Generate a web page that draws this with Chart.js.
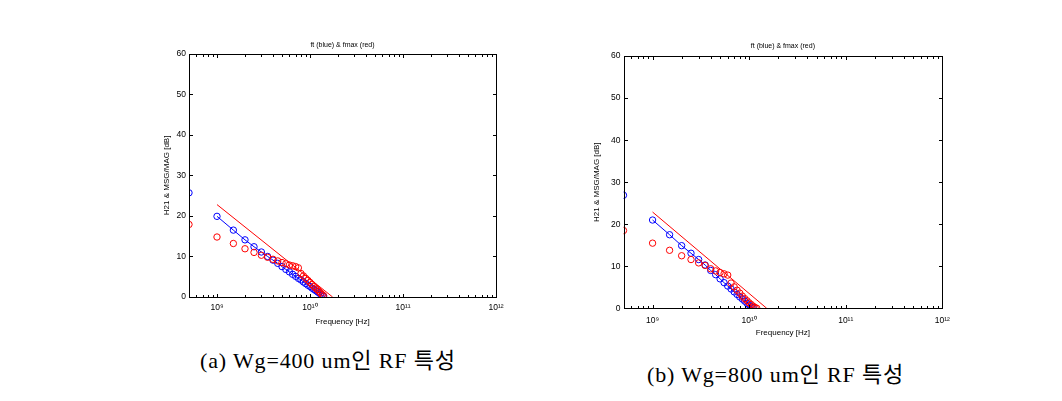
<!DOCTYPE html>
<html>
<head>
<meta charset="utf-8">
<script src="https://cdn.jsdelivr.net/npm/chart.js@4.4.1/dist/chart.umd.min.js"></script>
<style>
  body { margin: 0; background: #fff; width: 1062px; height: 401px; position: relative; overflow: hidden; }
  canvas { position: absolute; }
  #chartA { left: 140px; top: 30px; }
  #chartB { left: 580px; top: 30px; }
  .cap { position: absolute; font-family: "Liberation Serif", "Noto Sans CJK KR", serif; font-size: 22px;
         letter-spacing: 0.85px; line-height: 26px; white-space: nowrap; color: #000; }
</style>
</head>
<body>
<canvas id="chartA" width="380" height="310"></canvas>
<canvas id="chartB" width="390" height="320"></canvas>
<div class="cap" style="left:200px; top:348px;">(a) Wg=400 um인 RF 특성</div>
<div class="cap" style="left:647px; top:362px;">(b) Wg=800 um인 RF 특성</div>
<script>
// (a) Wg = 400 um
const freqA = [0.5e9, 1e9, 1.5e9, 2e9, 2.5e9, 3e9, 3.5e9, 4e9, 4.5e9, 5e9, 5.5e9, 6e9, 6.5e9, 7e9,
               7.5e9, 8e9, 8.5e9, 9e9, 9.5e9, 10e9, 10.5e9, 11e9, 11.5e9, 12e9, 12.5e9, 13e9, 13.5e9, 14e9];
const h21A = [25.7, 19.9, 16.5, 14.1, 12.4, 11.1, 10.0, 9.1, 8.3, 7.5, 6.8, 6.2, 5.6, 5.1,
              4.6, 4.2, 3.7, 3.3, 2.9, 2.6, 2.2, 1.9, 1.6, 1.3, 1.0, 0.7, 0.45, 0.2];
const msgA = [17.9, 14.8, 13.2, 11.9, 11.0, 10.3, 9.8, 9.3, 8.9, 8.5, 8.2, 7.9, 7.7, 7.5,
              7.2, 5.8, 5.2, 4.6, 4.1, 3.6, 3.1, 2.6, 2.2, 1.8, 1.4, 1.0, 0.6, 0.3];
const fitFreqA = [1e9, 1.75e10];
const fitGainA = [22.8, 0];

// (b) Wg = 800 um
const freqB = [0.5e9, 1e9, 1.5e9, 2e9, 2.5e9, 3e9, 3.5e9, 4e9, 4.5e9, 5e9, 5.5e9, 6e9,
               6.5e9, 7e9, 7.5e9, 8e9, 8.5e9, 9e9, 9.5e9, 10e9, 10.5e9, 11e9, 11.5e9, 12e9];
const h21B = [26.9, 21.0, 17.5, 14.9, 13.1, 11.6, 10.3, 9.0, 8.0, 7.0, 6.1, 5.3,
              4.6, 3.9, 3.3, 2.7, 2.2, 1.7, 1.2, 0.8, 0.4, 0.1];
const msgB = [18.5, 15.5, 13.8, 12.5, 11.6, 10.8, 10.2, 9.4, 8.9, 8.5, 8.2, 7.9,
              6.0, 5.1, 4.3, 3.6, 2.9, 2.3, 1.8, 1.3, 0.9, 0.5, 0.2, 0.0];
const fitFreqB = [1e9, 1.52e10];
const fitGainB = [22.9, 0];

const titleText = 'ft (blue) & fmax (red)';
const xLabel = 'Frequency [Hz]';
const yLabel = 'H21 & MSG/MAG [dB]';

const FONT = '"Liberation Sans", Arial, sans-serif';
const SUP = { '0': '\u2070', '1': '\u00b9', '2': '\u00b2', '3': '\u00b3', '4': '\u2074',
              '5': '\u2075', '6': '\u2076', '7': '\u2077', '8': '\u2078', '9': '\u2079' };

const isDecade = v => Math.abs(Math.log10(v) - Math.round(Math.log10(v))) < 1e-9;

// 1..9 x 10^n tick marks over the log axis
const xTickValues = [];
for (let e = 8; e <= 11; e++) {
  for (let m = 1; m <= 9; m++) {
    const v = m * Math.pow(10, e);
    if (v >= 5e8) xTickValues.push(v);
  }
}
xTickValues.push(1e12);

const zip = (xs, ys) => ys.map((y, i) => ({ x: xs[i], y }));

// box + inward tick marks, like the original plot frame
const frame = {
  id: 'frame',
  afterDraw(chart) {
    const { ctx, chartArea: a, scales: { x, y } } = chart;
    const L = Math.round(a.left) + 0.5, R = Math.round(a.right) + 0.5;
    const T = Math.round(a.top) + 0.5, B = Math.round(a.bottom) + 0.5;
    ctx.save();
    ctx.strokeStyle = '#000';
    ctx.lineWidth = 1;
    ctx.strokeRect(L, T, R - L, B - T);
    ctx.beginPath();
    x.ticks.forEach(t => {
      const px = Math.round(x.getPixelForValue(t.value)) + 0.5;
      const len = isDecade(t.value) ? 3.5 : 2.5;
      ctx.moveTo(px, B); ctx.lineTo(px, B - len);
      ctx.moveTo(px, T); ctx.lineTo(px, T + len);
    });
    y.ticks.forEach(t => {
      const py = Math.round(y.getPixelForValue(t.value)) + 0.5;
      ctx.moveTo(L, py); ctx.lineTo(L + 3.5, py);
      ctx.moveTo(R, py); ctx.lineTo(R - 3.5, py);
    });
    ctx.stroke();
    ctx.restore();
  }
};

function makeChart(id, freq, h21, msg, fitF, fitG, lay) {
  const h21Pts = zip(freq, h21);
  const msgPts = zip(freq, msg);
  const circle = color => ({
    showLine: false, pointStyle: 'circle', pointRadius: 3.2, pointBorderWidth: 1,
    pointBorderColor: color, pointBackgroundColor: 'rgba(0,0,0,0)'
  });
  return new Chart(document.getElementById(id), {
    type: 'scatter',
    data: {
      datasets: [
        Object.assign({ label: 'MSG/MAG', data: msgPts }, circle('#ff0000')),
        Object.assign({ label: 'H21', data: h21Pts }, circle('#0000ff')),
        { label: 'H21 line', data: h21Pts.slice(1), showLine: true, borderColor: '#0000ff',
          borderWidth: 1, pointRadius: 0 },
        { label: 'fmax fit', data: zip(fitF, fitG), showLine: true, borderColor: '#ff0000',
          borderWidth: 1, pointRadius: 0 }
      ]
    },
    options: {
      responsive: false,
      animation: false,
      layout: { padding: { left: 0, top: 0, right: lay.padRight, bottom: 0 } },
      plugins: {
        legend: { display: false },
        tooltip: { enabled: false },
        title: {
          display: true, text: titleText, fullSize: false, color: '#000',
          font: { family: FONT, size: 7, weight: 'normal' },
          padding: { top: lay.titleTop, bottom: lay.titleBottom }
        }
      },
      scales: {
        x: {
          type: 'logarithmic', min: 5e8, max: 1e12,
          grid: { display: false, drawTicks: false },
          border: { display: false },
          afterBuildTicks: s => { s.ticks = xTickValues.map(v => ({ value: v, major: isDecade(v) })); },
          afterFit: s => { s.height = lay.xHeight; },
          ticks: {
            autoSkip: false, maxRotation: 0, padding: lay.xTickPad, color: '#000',
            font: { family: FONT, size: 8.5 },
            callback: v => isDecade(v)
              ? '10' + String(Math.round(Math.log10(v))).split('').map(c => SUP[c]).join('')
              : ''
          },
          title: {
            display: true, text: xLabel, color: '#000', font: { family: FONT, size: 8 },
            padding: { top: 0, bottom: lay.xTitlePad }
          }
        },
        y: {
          min: 0, max: 60,
          grid: { display: false, drawTicks: false },
          border: { display: false },
          afterFit: s => { s.width = lay.yWidth; },
          ticks: { stepSize: 10, padding: 3, color: '#000', font: { family: FONT, size: 8.5 } },
          title: {
            display: true, text: yLabel, color: '#000', font: { family: FONT, size: 8 },
            padding: { top: lay.yTitlePad, bottom: 0 }
          }
        }
      }
    },
    plugins: [frame]
  });
}

makeChart('chartA', freqA, h21A, msgA, fitFreqA, fitGainA,
  { padRight: 24, titleTop: 11.2, titleBottom: 4.2, xHeight: 43, xTickPad: 6, xTitlePad: 13.2, yWidth: 49, yTitlePad: 22.2 });
makeChart('chartB', freqB, h21B, msgB, fitFreqB, fitGainB,
  { padRight: 27.7, titleTop: 12.2, titleBottom: 5.5, xHeight: 41.7, xTickPad: 7, xTitlePad: 12.2, yWidth: 43.5, yTitlePad: 12.2 });
</script>
</body>
</html>
